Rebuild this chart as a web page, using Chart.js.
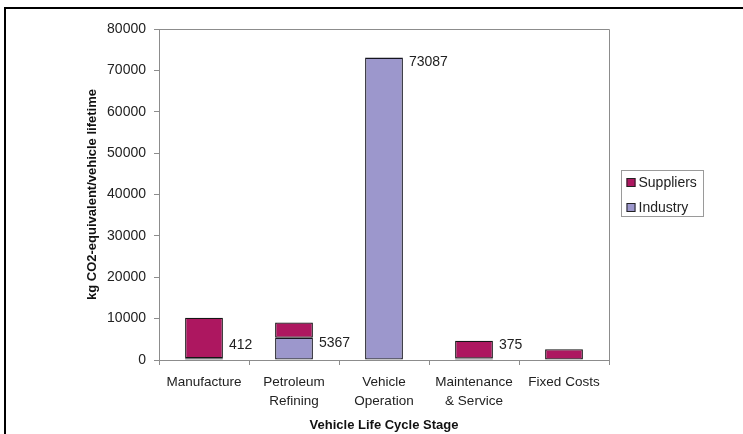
<!DOCTYPE html>
<html>
<head>
<meta charset="utf-8">
<script src="https://cdn.jsdelivr.net/npm/chart.js@4/dist/chart.umd.min.js"></script>
<style>
  html, body { margin: 0; padding: 0; background: #fff; }
  #wrap { position: relative; width: 743px; height: 434px; }
</style>
</head>
<body>
<div id="wrap"><canvas id="c" width="743" height="434"></canvas></div>
<script>
// Life cycle stages (multi-line where the axis label wraps)
const stages = ['Manufacture', ['Petroleum', 'Refining'], ['Vehicle', 'Operation'], ['Maintenance', '& Service'], 'Fixed Costs'];
// kg CO2-equivalent per vehicle lifetime
const industry = [412, 5367, 73087, 375, null];
const suppliers = [9800, 3700, null, 4300, 2600];
// values printed beside the industry segment
const industryLabels = [412, 5367, 73087, 375, null];
const yTicks = [0, 10000, 20000, 30000, 40000, 50000, 60000, 70000, 80000];

const FONT = "'Liberation Sans', Arial, sans-serif";
const SUPPLIER_COLOR = '#ad1760';
const INDUSTRY_COLOR = '#9c97cc';

// frame, plot border, value labels and legend
const decor = {
  id: 'decor',
  beforeDraw(chart) {
    const ctx = chart.ctx;
    ctx.save();
    ctx.fillStyle = '#fff';
    ctx.fillRect(0, 0, chart.width, chart.height);
    ctx.restore();
  },
  afterDatasetsDraw(chart) {
    const ctx = chart.ctx;
    const a = chart.chartArea;
    ctx.save();
    // plot area border (top and right)
    ctx.strokeStyle = '#8c8c8c';
    ctx.lineWidth = 1;
    ctx.beginPath();
    ctx.moveTo(a.left, a.top + 0.5);
    ctx.lineTo(a.right + 0.5, a.top + 0.5);
    ctx.lineTo(a.right + 0.5, a.bottom);
    ctx.stroke();

    // value labels to the right of the industry segment
    const meta = chart.getDatasetMeta(0);
    ctx.fillStyle = '#222';
    ctx.font = '14px ' + FONT;
    ctx.textAlign = 'left';
    ctx.textBaseline = 'middle';
    meta.data.forEach((el, i) => {
      const v = industryLabels[i];
      if (v == null) return;
      const p = el.getProps(['x', 'y', 'width', 'base'], true);
      const y = Math.min(p.y + 5, p.base - 14);
      ctx.fillText(String(v), p.x + p.width / 2 + 6, y);
    });

    // outer frame
    ctx.strokeStyle = '#000';
    ctx.lineWidth = 2;
    ctx.beginPath();
    ctx.moveTo(5, chart.height);
    ctx.lineTo(5, 8);
    ctx.lineTo(chart.width, 8);
    ctx.stroke();

    // legend box
    const lx = a.right + 12.5, ly = 170.5, lw = 82, lh = 46;
    ctx.strokeStyle = '#9a9a9a';
    ctx.lineWidth = 1;
    ctx.strokeRect(lx, ly, lw, lh);
    const order = [1, 0];
    order.forEach((di, k) => {
      const ds = chart.data.datasets[di];
      const cy = ly + 11.5 + k * 25;
      ctx.fillStyle = ds.backgroundColor;
      ctx.fillRect(lx + 5, cy - 4, 9, 9);
      ctx.strokeStyle = '#222';
      ctx.strokeRect(lx + 5.5, cy - 3.5, 8, 8);
      ctx.fillStyle = '#222';
      ctx.font = '14px ' + FONT;
      ctx.textBaseline = 'middle';
      ctx.fillText(ds.label, lx + 17, cy + 1);
    });
    ctx.restore();
  }
};

new Chart(document.getElementById('c'), {
  type: 'bar',
  data: {
    labels: stages,
    datasets: [
      { label: 'Industry', data: industry, backgroundColor: INDUSTRY_COLOR, borderColor: '#15151f', borderWidth: 1.3, borderSkipped: false },
      { label: 'Suppliers', data: suppliers, backgroundColor: SUPPLIER_COLOR, borderColor: '#151515', borderWidth: 1.3, borderSkipped: false }
    ]
  },
  options: {
    responsive: false,
    animation: false,
    devicePixelRatio: 1,
    layout: { padding: { left: 0, top: 29, right: 134, bottom: 0 } },
    datasets: { bar: { barPercentage: 0.42, categoryPercentage: 1.0 } },
    plugins: { legend: { display: false }, tooltip: { enabled: false } },
    scales: {
      x: {
        stacked: true,
        grid: { display: true, drawOnChartArea: false, offset: true, tickLength: 5, color: '#8c8c8c' },
        border: { color: '#8c8c8c' },
        ticks: { color: '#222', font: { family: FONT, size: 13.5, lineHeight: 1.4 }, padding: 8, maxRotation: 0, autoSkip: false },
        title: { display: true, text: 'Vehicle Life Cycle Stage', color: '#111', font: { family: FONT, size: 13, weight: 'bold' }, padding: { top: 0, bottom: 1 } },
        afterFit(s) { s.height = 74; }
      },
      y: {
        stacked: true,
        min: 0, max: 80000,
        afterBuildTicks(s) { s.ticks = yTicks.map(v => ({ value: v })); },
        grid: { display: true, drawOnChartArea: false, tickLength: 5, color: '#8c8c8c' },
        border: { color: '#8c8c8c' },
        ticks: { color: '#222', font: { family: FONT, size: 14 }, padding: 8, callback: v => String(v) },
        title: { display: true, text: 'kg CO2-equivalent/vehicle lifetime', color: '#111', font: { family: FONT, size: 13, weight: 'bold' }, padding: { top: 85, bottom: 0 } },
        afterFit(s) { s.width = 159; }
      }
    }
  },
  plugins: [decor]
});
</script>
</body>
</html>
